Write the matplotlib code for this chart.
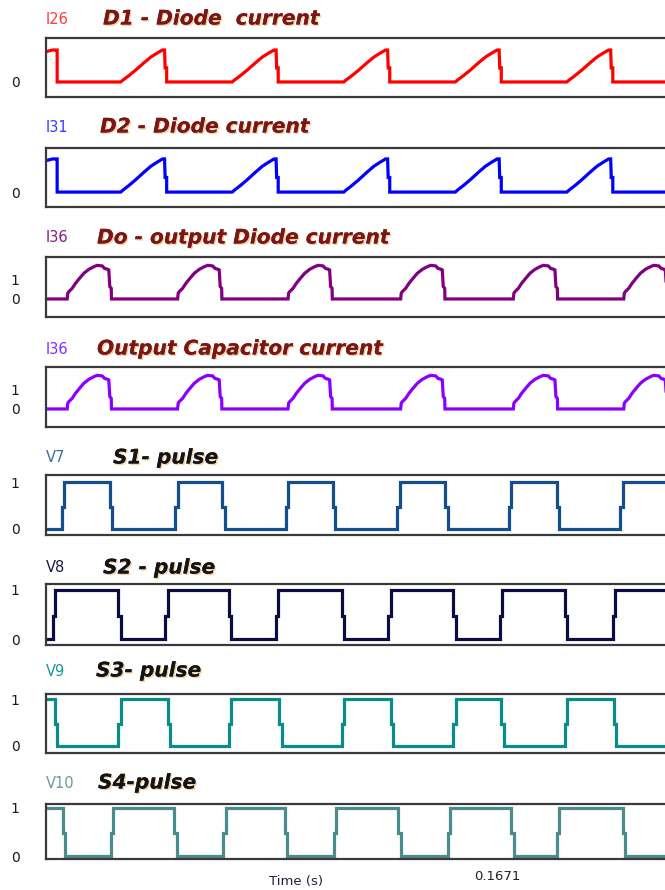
import matplotlib
matplotlib.use("Agg")
import matplotlib.pyplot as plt
import matplotlib.patheffects as pe

# temps en periodes de commutation (0 = bord gauche du trace)
t_end = 5.55

# D1 / D2 : courant diode, rampe puis chute
d1_head_t = [0.0, 0.06, 0.09, 0.10, 0.10]
d1_head_v = [0.95, 1.0, 1.0, 1.0, 0.0]
d1_fall = [0.10, 1.09, 2.09, 3.09, 4.09, 5.09]
ramp_dt = [-0.42, -0.40, -0.35, -0.29, -0.215, -0.15, -0.09, -0.045, -0.027, -0.022, -0.008, -0.008]
ramp_val = [0.0, 0.06, 0.19, 0.36, 0.59, 0.78, 0.91, 1.0, 1.0, 0.44, 0.44, 0.0]
d2_fall = [0.10, 1.09, 2.09, 3.09, 4.09, 5.09]

# Do et condensateur de sortie
do_rise = [0.19, 1.18, 2.17, 3.18, 4.19, 5.18]
cap_rise = [0.19, 1.18, 2.17, 3.18, 4.19, 5.18]
bump_dt = [0.0, 0.005, 0.014, 0.045, 0.074, 0.104, 0.149, 0.194, 0.239, 0.269,
           0.314, 0.335, 0.364, 0.373, 0.382, 0.395, 0.397]
bump_val = [0.0, 0.3, 0.38, 0.56, 0.82, 1.04, 1.35, 1.56, 1.70, 1.77,
            1.74, 1.61, 1.56, 1.53, 0.65, 0.56, 0.0]

# impulsions de commande
s1_rise = [0.14, 1.16, 2.15, 3.15, 4.15, 5.15]
s1_fall = [0.57, 1.58, 2.57, 3.58, 4.58]
s2_rise = [0.06, 1.07, 2.06, 3.07, 4.07, 5.08]
s2_fall = [0.65, 1.64, 2.65, 3.65, 4.65]
s3_rise = [0.65, 1.64, 2.65, 3.65, 4.65]
s3_fall = [0.08, 1.09, 2.09, 3.09, 4.08, 5.09]
s4_rise = [0.58, 1.59, 2.58, 3.60, 4.58]
s4_fall = [0.15, 1.15, 2.14, 3.16, 4.17, 5.17]


def close_trace(t, y):
    if t[-1] < t_end:
        t.append(t_end)
        y.append(y[-1])
    return t, y


def ramp_trace(falls):
    t = list(d1_head_t)
    y = list(d1_head_v)
    for tf in falls[1:]:
        t += [tf + d for d in ramp_dt]
        y += ramp_val
    return close_trace(t, y)


def bump_trace(rises):
    t = [0.0]
    y = [0.0]
    for tr in rises:
        t += [tr + d for d in bump_dt]
        y += bump_val
    return close_trace(t, y)


def pulse_trace(level, rises, falls, lag=0.022, mid=0.47):
    events = sorted([(r, 1.0) for r in rises] + [(f, 0.0) for f in falls])
    t = [0.0]
    y = [level]
    for te, new in events:
        t += [te, te, te + lag, te + lag]
        y += [level, mid, mid, new]
        level = new
    return close_trace(t, y)


traces = [
    ramp_trace(d1_fall),
    ramp_trace(d2_fall),
    bump_trace(do_rise),
    bump_trace(cap_rise),
    pulse_trace(0.0, s1_rise, s1_fall),
    pulse_trace(0.0, s2_rise, s2_fall),
    pulse_trace(1.0, s3_rise, s3_fall),
    pulse_trace(1.0, s4_rise, s4_fall),
]

var_names = ["I26", "I31", "I36", "I36", "V7", "V8", "V9", "V10"]
titles = ["D1 - Diode  current", "D2 - Diode current", "Do - output Diode current",
          "Output Capacitor current", "S1- pulse", "S2 - pulse", "S3- pulse", "S4-pulse"]
colors = ["#ff0000", "#0000ff", "#800080", "#8a00ff",
          "#154e8e", "#0c0c45", "#0a8c8c", "#4b8b8b"]
var_colors = ["#ff3a3a", "#3a3aff", "#8a1a8a", "#8a2aff",
              "#3a6aa8", "#1a1a50", "#1a9a9a", "#6a9a9a"]
title_colors = ["#7b1616"] * 4 + ["#141414"] * 4
yticks = [[0], [0], [0, 1], [0, 1], [0, 1], [0, 1], [0, 1], [0, 1]]

# mise en page en pixels (haut, bas de la boite; y du titre; x du titre)
W, H = 665, 890
boxes = [(38, 97), (148, 207), (257, 317), (367, 427),
         (475, 535), (584, 645), (694, 753), (804, 859)]
ylims = [(-0.47, 1.375), (-0.45, 1.33), (-0.95, 2.21), (-0.95, 2.21),
         (-0.13, 1.15), (-0.12, 1.12), (-0.15, 1.11), (-0.06, 1.08)]
title_y = [19, 127, 238, 349, 458, 568, 671, 783]
title_x = [103, 100, 97, 97, 113, 103, 96, 98]
left = 46

fig = plt.figure(figsize=(W / 100, H / 100), dpi=100)
shadow = [pe.withSimplePatchShadow(offset=(1.0, -1.0), shadow_rgbFace="#e8a040", alpha=0.5),
          pe.Normal()]

for i in range(8):
    top, bot = boxes[i]
    ax = fig.add_axes([left / W, 1 - bot / H, 1 - left / W, (bot - top) / H])
    t, y = traces[i]
    ax.plot(t, y, color=colors[i], lw=2.3, solid_joinstyle="miter")
    ax.set_xlim(0, t_end)
    ax.set_ylim(*ylims[i])
    ax.set_xticks([])
    ax.set_yticks(yticks[i])
    ax.set_yticklabels([str(v) for v in yticks[i]])
    ax.tick_params(axis="y", length=0, pad=19, labelsize=10, labelcolor="#1a1a1a")
    for s in ["top", "bottom", "left"]:
        ax.spines[s].set_color("#3a3a3a")
        ax.spines[s].set_linewidth(1.6)
    ax.spines["right"].set_visible(False)

    fig.text(left / W, 1 - title_y[i] / H, var_names[i], color=var_colors[i],
             fontsize=10.5, family="DejaVu Sans", va="center", ha="left")
    fig.text(title_x[i] / W, 1 - title_y[i] / H, titles[i], color=title_colors[i],
             fontsize=14.5, family="DejaVu Sans", fontweight="bold", fontstyle="oblique",
             va="center", ha="left", path_effects=shadow)

fig.text(296 / W, 1 - 882 / H, "Time (s)", color="#2a1a3a", fontsize=9.5,
         ha="center", va="center", family="DejaVu Sans")
fig.text(497 / W, 1 - 876 / H, "0.1671", color="#222222", fontsize=9.5,
         ha="center", va="center", family="DejaVu Sans")

fig.savefig("out.png", dpi=100)
